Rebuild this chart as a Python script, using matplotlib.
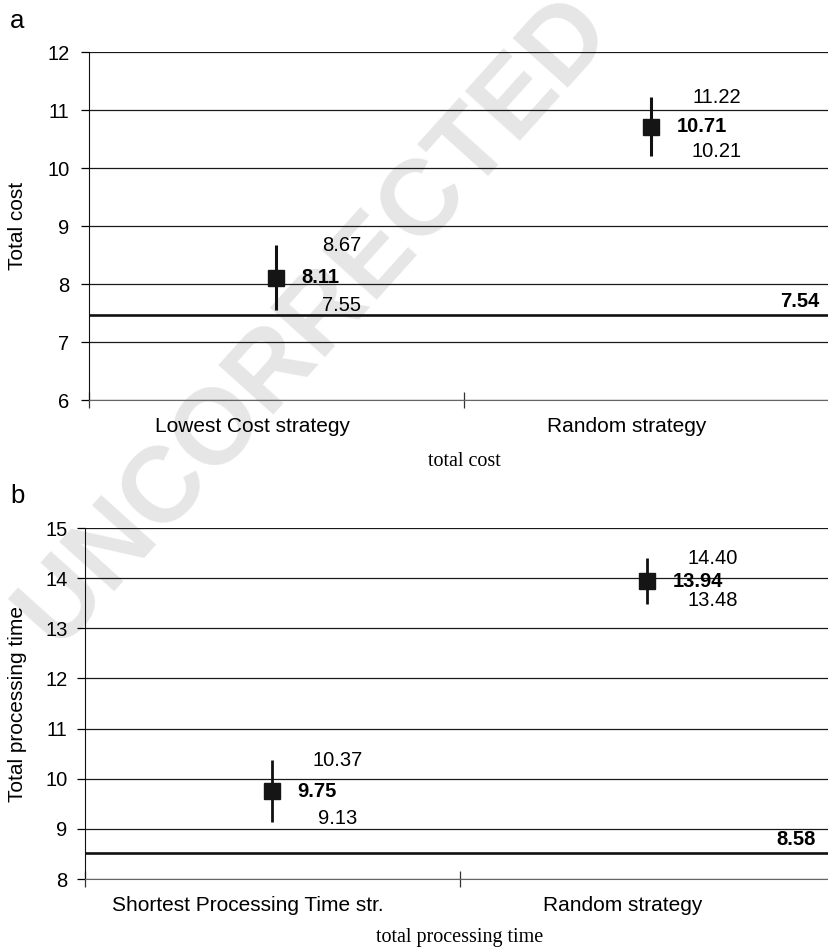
import matplotlib
matplotlib.use('Agg')
import matplotlib.pyplot as plt

plt.rcParams['font.family'] = ['Liberation Sans', 'DejaVu Sans']

# panel a: total cost
cost_strategies = ['Lowest Cost strategy', 'Random strategy']
cost_mean = [8.11, 10.71]
cost_hi = [8.67, 11.22]
cost_lo = [7.55, 10.21]
cost_ref_line = 7.46
cost_ref_label = '7.54'
cost_yticks = [6, 7, 8, 9, 10, 11, 12]

# panel b: total processing time
time_strategies = ['Shortest Processing Time str.', 'Random strategy']
time_mean = [9.75, 13.94]
time_hi = [10.37, 14.40]
time_lo = [9.13, 13.48]
time_ref_line = 8.52
time_ref_label = '8.58'
time_yticks = [8, 9, 10, 11, 12, 13, 14, 15]

W, H = 829, 947
fig = plt.figure(figsize=(W / 100, H / 100), dpi=100)

# watermark behind both panels
fig.text(314 / W, 1 - 320 / H, 'UNCORRECTED', fontsize=77, fontweight='bold',
         color='#e6e6e6', rotation=48, ha='center', va='center', zorder=-5)


def draw_panel(rect, letter, letter_xy, strategies, mean, hi, lo, ref_line, ref_label,
               yticks, ylabel, xlabel, ms, elw, lab_y, xlab_y, tickpad):
    ax = fig.add_axes(rect)
    ax.set_facecolor('none')
    xs = [i + 0.5 for i in range(len(strategies))]
    ax.set_xlim(0, 2)
    ax.set_ylim(yticks[0], yticks[-1])
    ax.set_yticks(yticks)
    ax.set_xticks([0, 1, 2])
    ax.set_xticklabels([])
    for y in yticks:
        ax.axhline(y, color='#1a1a1a', lw=0.9, zorder=1)
    ax.axhline(ref_line, color='#111111', lw=1.9, zorder=2)

    for x, m, h, l in zip(xs, mean, hi, lo):
        ax.plot([x, x], [l, h], color='#111111', lw=elw, solid_capstyle='butt', zorder=3)
        ax.plot([x], [m], marker='s', ms=ms, color='#151515', zorder=4)
        ax.annotate(f'{h:.2f}', (x, h), xytext=(47, 0), textcoords='offset points',
                    ha='center', va='center', fontsize=14.5)
        ax.annotate(f'{l:.2f}', (x, l), xytext=(47, 3), textcoords='offset points',
                    ha='center', va='center', fontsize=14.5)
        ax.annotate(f'{m:.2f}', (x, m), xytext=(18, 0), textcoords='offset points',
                    ha='left', va='center', fontsize=14.5, fontweight='bold')

    ax.annotate(ref_label, (2, ref_line), xytext=(-14, 10), textcoords='offset points',
                ha='right', va='center', fontsize=14.5, fontweight='bold')

    for x, name in zip(xs, strategies):
        ax.text(x - 0.065, lab_y, name, transform=ax.get_xaxis_transform(),
                ha='center', va='center', fontsize=15)
    ax.text(1, xlab_y, xlabel, transform=ax.get_xaxis_transform(),
            ha='center', va='center', fontsize=14.5, family='Liberation Serif')

    for s in ['top', 'right']:
        ax.spines[s].set_visible(False)
    ax.spines['left'].set_color('#111111')
    ax.spines['bottom'].set_color('#666666')
    ax.tick_params(axis='y', direction='out', length=6, width=0.9, pad=tickpad,
                   labelsize=14.5)
    ax.tick_params(axis='x', direction='inout', length=11, width=0.9, color='#333333')

    # y label centred 18 px from the left edge
    fig.text(18 / W, rect[1] + rect[3] / 2, ylabel, rotation=90, fontsize=15,
             ha='center', va='center')
    fig.text(letter_xy[0] / W, 1 - letter_xy[1] / H, letter, fontsize=18.5,
             ha='left', va='center')
    return ax


draw_panel([89 / W, 1 - 400 / H, 750 / W, 348 / H], 'a', (10, 21),
           cost_strategies, cost_mean, cost_hi, cost_lo, cost_ref_line, cost_ref_label,
           cost_yticks, 'Total cost', 'total cost', 12, 2.2,
           -27 / 348, -61 / 348, 8)

draw_panel([85 / W, 1 - 879 / H, 750 / W, 351 / H], 'b', (10, 496),
           time_strategies, time_mean, time_hi, time_lo, time_ref_line, time_ref_label,
           time_yticks, 'Total processing time', 'total processing time', 11, 2.0,
           -26 / 351, -58 / 351, 6.5)

fig.savefig('out.png', dpi=100)
